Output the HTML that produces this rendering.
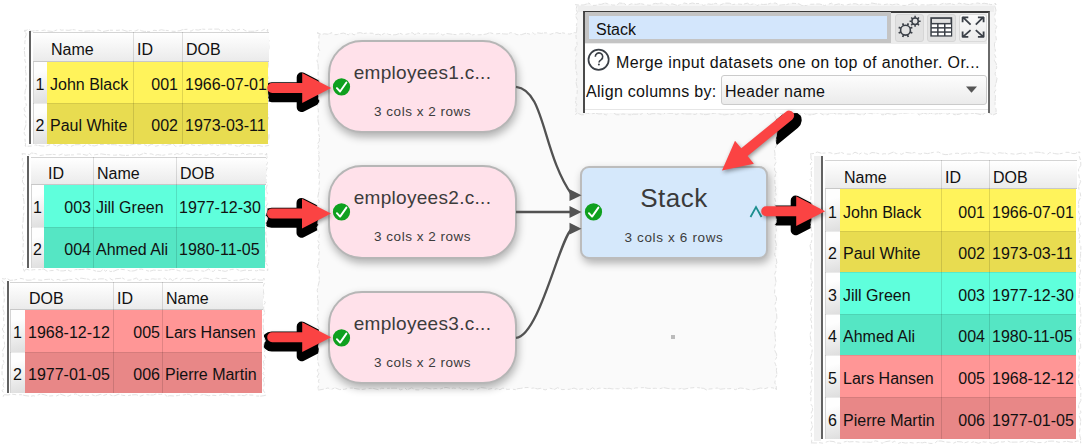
<!DOCTYPE html>
<html><head><meta charset="utf-8">
<style>
*{box-sizing:border-box;margin:0;padding:0}
html,body{width:1086px;height:447px;overflow:hidden;background:#fff;font-family:"Liberation Sans",sans-serif;color:#000}
.a{position:absolute}
.vl{position:absolute;width:2px;background:#626262}
.hd{position:absolute;background:linear-gradient(#ffffff,#ebebeb);border-top:1px solid #d4d4d4;border-bottom:1px solid #c8c8c8}
.c{position:absolute;white-space:nowrap;overflow:hidden;line-height:17px;font-size:16px;color:#111}
.cd{position:absolute;width:1px}
.node{position:absolute;width:189px;height:93px;border:2px solid #b6b6b6;border-radius:34px;background:#ffe1ea;box-shadow:1px 4px 9px rgba(0,0,0,0.3)}
.nt{position:absolute;left:0;width:100%;text-align:center;color:#3c3c3c;white-space:nowrap}
.t1{top:20px;font-size:19px;letter-spacing:0.3px}
.t2{top:62px;font-size:13.5px;letter-spacing:0.5px}
</style></head><body>
<svg class="a" style="left:0;top:0" width="1086" height="447"><g fill="#000" stroke="#000" stroke-width="10" stroke-linejoin="round"><path transform="translate(330.7,92.2)" d="M-59 -5H-29V-14.9L0 0L-29 14.9V5H-59A5 5 0 0 1 -59 -5Z"/><path transform="translate(330.5,217.8)" d="M-59 -5H-29V-14.9L0 0L-29 14.9V5H-59A5 5 0 0 1 -59 -5Z"/><path transform="translate(330.7,341.4)" d="M-59 -5H-29V-14.9L0 0L-29 14.9V5H-59A5 5 0 0 1 -59 -5Z"/><path transform="translate(824.7,215.4)" d="M-59 -5H-29V-14.9L0 0L-29 14.9V5H-59A5 5 0 0 1 -59 -5Z"/><path transform="translate(724.5,175.0) rotate(140.7)" d="M-86.8 -5H-29V-14.9L0 0L-29 14.9V5H-86.8A5 5 0 0 1 -86.8 -5Z"/></g></svg>
<svg class="a" style="left:0;top:0" width="1086" height="447"><path d="M317.0 32.8L321.5 34.5L324.3 33.8L327.7 34.2L332.0 32.7L334.1 34.7L337.4 34.5L339.4 33.7L343.6 33.1L348.4 34.8L350.5 32.6L354.1 34.9L357.3 33.1L360.5 32.6L363.2 33.6L366.7 33.1L369.4 33.1L372.8 33.3L374.8 34.7L378.5 34.2L381.1 35.1L385.6 32.8L388.6 34.4L392.8 34.9L396.0 34.7L400.0 33.3L403.8 34.8L408.3 33.8L412.1 32.6L414.8 34.6L418.1 32.9L421.7 34.3L425.8 33.5L429.1 33.8L433.4 33.9L436.6 33.8L438.7 32.6L442.8 35.1L446.6 33.5L449.1 33.8L454.0 34.5L457.6 34.7L460.3 33.8L465.2 34.0L468.6 33.2L472.2 35.0L474.2 34.5L478.7 34.8L482.9 34.6L486.5 34.0L489.7 32.6L494.4 34.0L497.0 33.8L500.4 33.4L503.5 33.9L507.3 34.1L510.7 32.6L513.4 33.0L517.1 34.7L521.5 34.6L526.0 33.2L530.5 34.3L532.8 32.5L534.8 34.5L537.5 32.8L541.4 33.4L543.6 32.9L547.2 32.9L550.0 34.4L553.4 33.3L556.8 32.6L560.0 33.6L562.5 32.8L567.2 33.8L569.9 34.1L574.3 32.6L576.4 32.9L580.5 32.9L584.6 34.3L588.3 33.1L593.2 34.6L596.8 33.1L600.7 33.5L604.4 33.3L608.3 32.7L611.2 35.0L615.8 33.3L620.4 33.3L625.2 34.4L628.5 33.2L630.5 34.8L632.6 34.6L637.5 34.0L640.0 34.8L644.9 34.3L648.5 33.5L651.5 33.0L655.5 33.6L658.1 32.8L662.1 33.3L665.6 33.3L670.2 34.8L672.3 33.0L675.3 35.1L679.6 33.4L682.3 34.3L686.8 34.9L689.8 34.8L693.9 33.8L698.8 33.1L703.0 32.7L705.5 34.9L708.1 34.5L711.9 34.7L715.0 33.4L717.9 34.8L721.7 35.0L726.4 32.9L730.0 32.8L732.2 32.7L736.8 34.5L741.3 33.4L745.1 34.5L748.2 34.0L750.9 32.7L753.7 34.8L757.4 34.9L760.8 33.2L765.1 34.7L767.2 34.2L769.4 32.8L774.1 32.6L776.8 35.1L776.7 32.5L776.4 35.0L776.7 39.2L776.0 44.0L774.6 48.9L776.3 51.8L776.7 55.2L776.9 59.1L774.4 61.2L775.4 64.1L776.2 67.4L774.6 69.6L774.5 74.5L776.4 76.8L774.5 80.7L775.2 84.3L776.3 88.3L776.2 91.9L776.8 94.7L774.4 97.5L775.3 100.9L774.6 104.8L776.2 108.0L776.2 110.9L774.7 115.5L776.1 118.4L775.5 122.0L776.4 125.8L776.4 127.9L775.6 130.1L776.8 132.3L776.2 136.2L775.7 140.6L776.6 145.2L774.9 148.7L774.5 150.9L775.0 153.4L774.9 158.4L776.7 161.3L774.6 164.9L774.7 167.8L774.6 170.2L776.2 172.3L774.9 177.0L774.8 181.7L775.2 186.0L775.9 188.5L775.1 191.0L776.3 195.0L774.5 197.2L775.6 201.6L774.8 205.2L776.0 208.6L776.3 211.6L775.3 213.7L775.5 216.9L776.1 219.1L776.7 221.5L774.8 224.3L776.0 227.5L776.4 231.3L775.6 233.3L775.3 236.9L775.2 240.2L776.4 244.4L775.8 247.8L775.9 250.5L774.6 254.2L776.3 259.0L776.9 262.9L775.7 265.1L776.6 269.7L774.7 274.0L775.2 277.0L776.0 281.5L775.1 285.6L774.8 289.4L774.5 294.1L776.5 297.8L776.4 300.6L775.0 304.3L775.2 306.4L776.1 310.6L776.6 314.1L776.9 318.3L774.9 323.3L776.3 327.1L774.5 331.9L775.0 334.3L775.3 338.8L775.8 342.9L774.5 347.7L774.9 350.8L776.6 354.1L776.7 357.1L774.5 361.8L775.4 364.2L776.7 367.4L776.4 370.3L777.0 374.6L775.9 377.1L775.4 379.2L774.8 383.0L776.3 385.6L776.3 389.3L777.0 389.3L772.9 387.9L768.5 387.5L764.9 388.7L760.3 388.0L756.6 389.0L753.8 389.7L749.3 389.7L745.1 388.6L740.2 388.0L735.3 389.6L731.8 388.5L728.8 388.7L725.8 388.6L723.8 388.8L720.4 389.2L717.2 388.0L713.2 388.7L709.2 389.0L706.6 390.0L703.8 388.4L699.1 387.8L695.6 387.4L692.2 387.8L689.0 388.1L684.0 389.2L681.5 388.4L677.9 389.1L675.9 389.0L672.6 388.9L668.1 388.5L663.9 387.7L659.6 388.7L655.4 388.3L651.4 388.4L648.2 388.4L644.3 387.6L640.0 387.8L635.7 387.9L631.8 389.1L629.0 388.2L624.4 388.6L622.0 387.8L618.5 388.8L616.4 388.7L612.1 388.9L609.1 388.3L607.0 388.7L602.2 388.2L599.0 388.2L595.2 389.5L592.5 387.7L589.7 389.8L585.2 388.6L582.1 388.7L577.9 389.6L574.0 388.1L569.5 389.3L565.7 389.4L562.0 389.6L557.6 387.7L554.6 389.4L549.8 388.2L545.2 389.9L540.5 388.4L537.6 388.9L533.3 388.0L530.7 388.4L528.2 387.5L524.9 387.6L520.7 388.4L517.9 388.6L515.5 389.6L511.4 389.1L507.1 389.4L502.9 388.1L500.0 389.7L496.8 388.7L494.5 389.5L492.4 388.4L487.7 389.4L485.6 388.2L481.2 387.5L477.3 389.1L472.8 389.7L468.7 389.8L465.5 388.7L462.4 389.6L459.7 387.9L456.3 388.5L453.7 388.1L450.7 388.5L446.0 387.4L443.8 387.9L439.2 389.2L436.1 388.5L431.3 389.0L426.7 388.0L424.2 387.6L422.2 389.6L418.2 389.9L415.1 389.7L411.7 387.8L407.0 389.9L404.8 387.8L402.6 389.3L400.3 389.8L398.2 388.3L394.0 388.2L389.4 388.3L386.3 388.4L381.4 388.3L378.6 389.8L373.8 388.5L370.8 388.4L367.1 388.6L364.9 389.1L361.7 389.5L357.0 388.9L353.1 388.1L348.8 388.1L344.6 389.3L339.6 389.6L334.9 387.8L330.3 389.9L328.1 387.9L324.6 389.0L319.7 389.9L318.2 390.0L318.0 387.6L319.3 383.5L318.4 381.4L319.1 379.1L317.1 376.9L318.9 373.7L317.3 370.8L319.1 366.4L317.8 361.8L317.6 358.6L317.9 354.9L319.0 351.9L318.5 347.0L318.7 344.7L319.6 341.4L319.2 337.2L318.4 333.1L319.2 328.4L317.4 325.5L318.4 322.4L317.9 320.1L317.1 316.4L318.7 312.0L317.8 309.0L317.8 306.0L318.3 301.7L317.4 298.1L317.8 293.4L317.2 290.4L318.2 285.5L319.4 280.7L319.1 275.8L319.4 271.0L317.3 266.6L318.5 263.1L319.0 258.1L318.9 254.0L319.5 250.9L318.0 247.0L319.5 243.6L317.4 240.0L318.8 237.5L319.4 233.8L318.1 231.3L317.1 227.1L318.4 224.8L317.3 222.0L318.6 219.2L317.2 215.6L319.2 213.4L317.5 209.5L317.1 204.9L319.2 201.8L317.7 197.7L318.6 193.0L319.3 188.4L318.8 185.1L319.5 181.5L318.9 177.1L319.6 172.7L317.5 169.9L319.0 165.7L318.3 162.1L319.3 158.9L318.5 154.5L319.2 152.4L317.5 149.0L318.8 146.1L317.3 144.1L319.3 141.2L319.5 137.0L318.5 133.3L318.4 129.7L319.1 126.0L318.1 121.2L317.8 117.3L318.3 114.4L318.4 110.6L317.4 105.7L319.6 101.8L318.5 97.6L318.0 94.5L319.3 89.7L319.3 85.7L319.2 80.9L318.2 77.7L318.0 73.3L318.3 69.1L318.2 66.1L317.9 63.7L317.0 60.5L317.7 58.0L318.5 53.4L319.6 50.5L318.3 47.8L318.8 43.5L319.0 40.2L318.9 36.8L319.5 33.3Z" fill="#fafafa" stroke="#e2e2e2" stroke-width="1" stroke-dasharray="4 2 6 1 3 3"/></svg>
<svg class="a" style="left:0;top:0" width="1086" height="447"><path d="M24.0 31.5L28.8 29.1L31.1 31.2L35.3 30.7L38.2 30.6L42.1 30.5L44.5 30.1L47.7 30.9L52.7 31.5L56.3 30.2L59.1 29.1L61.2 30.2L64.2 30.0L68.8 30.4L72.5 29.6L74.6 29.8L77.0 30.3L82.0 30.8L84.5 31.3L88.9 30.9L93.7 31.0L98.0 29.9L103.0 31.5L105.5 31.0L109.6 30.2L113.2 30.3L118.0 30.3L122.5 29.9L127.1 31.3L130.5 30.5L135.3 30.9L138.7 29.6L141.7 30.8L144.2 31.4L147.0 31.4L149.9 31.5L154.0 30.3L157.6 30.7L161.4 29.8L164.0 30.3L168.8 30.6L171.0 31.1L175.2 31.4L177.8 30.9L179.9 30.7L182.8 29.6L187.4 29.3L190.9 31.2L193.7 29.5L198.3 30.1L202.5 29.1L205.6 29.4L209.6 29.2L214.4 29.1L218.6 29.1L221.4 31.1L223.9 29.5L227.9 30.0L230.1 31.6L232.5 29.1L235.6 30.6L239.8 29.3L242.8 29.1L246.1 31.0L250.4 31.3L254.6 31.2L258.7 30.2L261.4 30.7L264.4 29.3L267.7 31.3L267.5 29.0L267.7 32.2L266.5 34.6L267.4 37.4L269.0 40.6L268.6 44.3L268.9 46.5L268.8 49.0L267.7 52.9L266.6 57.8L268.4 62.8L268.3 66.1L267.4 69.9L267.2 74.3L267.9 77.1L269.0 80.7L267.9 82.8L267.1 85.1L268.7 87.8L268.4 90.4L267.6 93.0L268.2 96.4L268.4 100.3L266.5 105.1L267.9 109.3L267.5 112.8L267.9 114.9L268.5 118.5L266.9 120.8L267.7 123.9L267.4 128.7L266.4 131.5L269.0 134.6L268.7 138.7L266.8 141.6L269.0 145.6L269.0 145.4L265.5 146.0L261.8 146.3L258.9 145.5L254.1 146.3L249.9 146.0L246.1 145.5L242.7 144.5L239.6 146.2L237.2 146.3L232.6 144.8L227.8 144.7L225.7 144.8L221.4 144.6L217.9 145.6L214.5 144.4L211.7 145.1L208.3 144.0L203.8 144.1L199.3 145.7L196.6 145.2L193.9 145.4L189.8 144.1L186.1 144.4L183.8 145.6L178.8 146.1L175.5 146.3L173.3 144.2L168.3 144.8L165.9 145.7L163.2 144.8L159.2 145.4L155.6 146.2L152.0 144.0L147.7 146.2L144.2 144.6L141.4 144.2L138.0 144.7L134.8 143.9L130.5 145.0L128.0 145.4L125.9 145.0L121.3 146.0L117.8 145.2L114.5 144.7L109.7 144.7L106.3 144.0L103.3 144.6L99.4 144.5L94.8 145.9L90.9 145.5L86.9 144.0L83.0 146.5L79.6 144.6L75.0 144.8L70.5 146.5L65.7 144.6L61.9 144.1L57.2 146.2L52.8 144.5L50.2 144.6L46.4 146.0L42.0 146.1L38.2 145.4L35.4 145.0L32.0 146.0L27.1 146.3L25.1 145.2L25.7 146.5L25.3 142.2L24.9 138.2L25.3 135.4L24.2 133.3L24.5 129.1L26.0 124.8L25.8 121.6L26.2 117.2L24.4 114.8L25.2 111.7L24.0 108.8L26.5 105.1L25.4 102.0L25.2 98.9L24.8 94.3L25.3 90.3L26.4 86.7L26.1 84.5L25.7 81.6L25.7 77.2L26.2 74.0L25.6 71.7L25.4 68.6L26.1 64.0L24.8 60.1L25.2 57.4L24.7 54.7L24.3 49.8L25.0 45.4L24.8 42.3L25.2 40.1L25.1 37.6L26.3 34.7L25.1 29.9Z" fill="#fff" stroke="#e2e2e2" stroke-width="1" stroke-dasharray="4 2 6 1 3 3"/></svg>
<div class="vl" style="left:29px;top:31px;height:113px"></div>
<div class="a" style="left:33px;top:32px;width:235px;height:112px;background:#fff;border-left:1px solid #d4d4d4"></div>
<div class="hd" style="left:33px;top:32px;width:236px;height:30px"></div>
<div class="a" style="left:47px;top:62px;width:221px;height:41px;background:#fff35b"></div>
<div class="a" style="left:34px;top:62px;width:13px;height:41px;background:linear-gradient(165deg,#fefefe 25%,#dedede)"></div>
<div class="c" style="left:33px;width:14px;text-align:center;top:75.5px">1</div>
<div class="c" style="left:50px;width:83px;top:75.5px">John Black</div>
<div class="c" style="left:133px;width:45px;text-align:right;top:75.5px">001</div>
<div class="c" style="left:185px;width:83px;top:75.5px">1966-07-01</div>
<div class="a" style="left:47px;top:103px;width:221px;height:41px;background:#e8dc50"></div>
<div class="a" style="left:34px;top:103px;width:13px;height:41px;background:linear-gradient(165deg,#fefefe 25%,#dedede)"></div>
<div class="a" style="left:33px;top:103px;width:235px;height:1px;background:rgba(0,0,0,0.08)"></div>
<div class="c" style="left:33px;width:14px;text-align:center;top:116.5px">2</div>
<div class="c" style="left:50px;width:83px;top:116.5px">Paul White</div>
<div class="c" style="left:133px;width:45px;text-align:right;top:116.5px">002</div>
<div class="c" style="left:185px;width:83px;top:116.5px">1973-03-11</div>
<div class="c" style="left:51px;top:41.0px">Name</div>
<div class="cd" style="left:133px;top:32px;height:112px;background:rgba(0,0,0,0.12)"></div>
<div class="c" style="left:137px;top:41.0px">ID</div>
<div class="cd" style="left:182px;top:32px;height:112px;background:rgba(0,0,0,0.12)"></div>
<div class="c" style="left:186px;top:41.0px">DOB</div>
<svg class="a" style="left:0;top:0" width="1086" height="447"><path d="M22.0 153.6L25.6 154.0L29.4 154.6L31.6 153.0L36.2 153.7L38.9 155.6L42.3 155.2L45.7 154.7L48.1 154.7L52.8 154.4L57.0 154.7L59.2 155.0L62.9 153.8L65.0 155.3L68.5 154.9L73.1 154.9L77.9 154.0L82.3 154.2L87.1 155.3L89.4 153.4L92.0 155.5L95.3 154.6L98.2 154.3L101.4 153.9L105.1 154.5L109.8 154.8L114.6 155.2L119.6 154.7L122.1 155.2L127.0 155.4L130.7 154.9L133.3 155.2L137.0 153.7L139.2 155.2L144.2 153.2L148.6 154.1L151.1 153.8L155.4 155.3L157.5 154.6L159.6 154.9L162.6 155.3L167.6 154.3L172.6 153.8L174.8 154.6L176.9 153.5L180.1 154.6L182.6 153.1L187.2 153.8L192.1 155.3L195.2 154.2L198.8 154.7L202.5 154.5L206.4 155.4L209.9 154.1L214.1 153.6L217.0 155.5L220.6 154.4L222.6 154.1L226.3 153.1L230.2 154.6L232.4 154.6L235.8 154.8L238.8 154.8L243.0 153.1L245.2 154.8L250.1 153.7L253.5 154.5L256.4 153.9L259.4 154.0L263.1 153.8L266.3 155.0L266.5 153.0L267.2 157.2L265.9 159.9L267.5 162.6L266.2 165.9L267.2 168.2L265.8 171.2L265.8 174.5L267.1 177.0L265.7 181.0L267.4 184.3L266.6 186.7L265.9 189.3L267.5 193.8L265.9 196.6L265.9 200.5L267.7 203.6L265.9 206.5L267.1 209.3L266.9 212.5L265.6 215.7L268.0 218.2L265.7 223.0L266.9 228.0L265.6 232.9L266.1 235.5L266.3 240.0L267.2 243.6L267.4 246.6L266.5 248.8L265.9 251.7L265.7 253.8L265.6 257.9L265.7 262.6L268.0 266.3L267.6 270.5L268.0 269.8L264.4 270.4L259.6 269.9L256.6 270.8L252.0 270.3L247.7 270.6L245.1 270.1L240.6 271.1L236.2 269.1L231.8 269.4L229.8 269.9L225.2 271.4L222.4 270.8L218.8 270.4L215.4 269.5L213.4 271.4L211.0 271.2L208.8 269.0L204.2 271.3L200.7 270.7L197.8 270.6L193.8 270.0L190.8 271.0L187.8 271.2L184.1 269.6L181.0 271.3L178.4 270.5L174.6 269.5L171.5 269.4L167.6 270.4L164.5 270.2L160.4 270.4L156.3 270.3L153.6 270.1L149.5 271.3L146.2 270.4L141.6 269.1L138.4 269.2L134.1 270.8L130.7 271.2L126.2 269.8L121.6 269.4L117.6 269.6L113.9 271.2L110.1 271.5L107.7 269.5L105.6 271.3L103.3 269.2L100.7 271.4L96.2 271.2L91.7 269.7L87.2 269.0L83.4 269.4L81.3 269.5L77.8 269.6L75.5 269.6L70.7 271.3L67.7 270.0L63.2 270.9L60.7 270.9L56.8 269.5L53.6 270.5L50.4 270.6L47.2 271.3L43.7 269.0L40.4 269.6L38.0 269.7L33.7 269.7L30.1 270.2L26.2 269.2L23.8 271.3L24.4 271.5L23.2 267.9L22.5 263.8L22.5 261.0L22.8 257.2L23.8 254.5L22.8 249.7L23.1 245.6L23.5 241.0L22.6 238.2L23.2 236.1L22.4 233.0L22.8 229.9L22.4 225.6L23.2 220.6L23.2 216.8L24.1 212.3L23.3 208.6L24.2 204.5L23.9 201.3L23.2 196.4L22.6 193.7L23.8 189.5L24.2 184.7L22.5 181.9L22.5 179.2L24.2 175.1L22.7 170.4L22.8 165.8L23.9 162.5L22.2 160.2L22.8 155.7Z" fill="#fff" stroke="#e2e2e2" stroke-width="1" stroke-dasharray="4 2 6 1 3 3"/></svg>
<div class="vl" style="left:27px;top:156px;height:112px"></div>
<div class="a" style="left:31px;top:157px;width:234px;height:111px;background:#fff;border-left:1px solid #d4d4d4"></div>
<div class="hd" style="left:31px;top:157px;width:235px;height:28px"></div>
<div class="a" style="left:44px;top:185px;width:221px;height:42px;background:#5fffdc"></div>
<div class="a" style="left:32px;top:185px;width:12px;height:42px;background:linear-gradient(165deg,#fefefe 25%,#dedede)"></div>
<div class="c" style="left:31px;width:13px;text-align:center;top:199.0px">1</div>
<div class="c" style="left:44px;width:47px;text-align:right;top:199.0px">003</div>
<div class="c" style="left:96px;width:80px;top:199.0px">Jill Green</div>
<div class="c" style="left:179px;width:87px;top:199.0px">1977-12-30</div>
<div class="a" style="left:44px;top:227px;width:221px;height:41px;background:#55e6c4"></div>
<div class="a" style="left:32px;top:227px;width:12px;height:41px;background:linear-gradient(165deg,#fefefe 25%,#dedede)"></div>
<div class="a" style="left:31px;top:227px;width:234px;height:1px;background:rgba(0,0,0,0.08)"></div>
<div class="c" style="left:31px;width:13px;text-align:center;top:240.5px">2</div>
<div class="c" style="left:44px;width:47px;text-align:right;top:240.5px">004</div>
<div class="c" style="left:96px;width:80px;top:240.5px">Ahmed Ali</div>
<div class="c" style="left:179px;width:87px;top:240.5px">1980-11-05</div>
<div class="c" style="left:48px;top:165.0px">ID</div>
<div class="cd" style="left:93px;top:157px;height:111px;background:rgba(0,0,0,0.12)"></div>
<div class="c" style="left:97px;top:165.0px">Name</div>
<div class="cd" style="left:176px;top:157px;height:111px;background:rgba(0,0,0,0.12)"></div>
<div class="c" style="left:180px;top:165.0px">DOB</div>
<svg class="a" style="left:0;top:0" width="1086" height="447"><path d="M2.0 278.6L4.3 279.0L6.8 278.2L10.0 280.4L14.4 280.0L17.0 279.4L19.9 278.4L22.2 278.6L27.0 280.2L31.4 280.1L34.0 278.8L37.9 279.9L42.4 280.3L44.7 279.6L48.7 279.3L51.2 279.2L53.5 280.4L58.1 279.4L61.0 280.4L64.7 280.3L69.3 279.3L72.5 279.6L75.8 278.4L78.7 280.1L80.8 278.1L84.7 278.7L88.3 279.2L91.3 280.6L93.9 279.1L96.5 279.6L99.4 278.9L103.6 278.8L107.3 280.4L109.6 278.2L112.3 280.0L116.1 278.6L119.1 278.5L122.5 278.1L126.6 280.3L131.5 279.9L136.3 278.0L139.2 280.5L143.5 279.1L148.4 279.6L152.8 278.8L155.4 279.2L157.8 279.0L162.7 278.9L164.7 278.1L167.2 280.0L170.3 278.8L172.6 280.6L175.9 278.5L178.0 278.1L180.5 279.8L183.0 278.1L186.5 278.6L191.5 278.3L195.1 280.0L198.3 280.6L201.7 278.6L204.9 278.1L208.2 278.6L212.9 280.2L216.4 278.1L219.1 278.6L221.8 278.6L226.4 278.4L228.5 280.4L232.2 280.6L235.4 280.3L239.4 280.1L243.6 279.3L245.9 278.5L250.5 280.3L255.3 278.9L259.3 280.1L263.2 280.1L263.8 278.0L264.8 282.1L263.0 286.8L263.0 289.0L263.8 293.9L263.2 296.1L263.0 298.5L265.3 302.5L263.8 305.0L263.6 308.7L264.9 313.4L263.1 315.5L263.2 317.5L263.4 319.8L263.2 324.2L263.2 327.8L263.8 330.4L263.2 333.4L264.3 337.8L265.4 341.3L264.0 343.4L263.3 346.9L265.1 350.7L263.5 353.8L265.5 357.4L263.3 361.9L264.1 364.2L263.5 367.3L264.9 370.2L263.0 373.7L265.2 376.0L263.2 379.8L264.4 383.4L263.5 388.0L263.2 390.2L264.7 392.7L265.5 395.4L261.1 396.1L256.5 396.0L254.0 395.2L251.0 395.1L246.3 394.7L244.3 395.7L240.7 395.2L236.5 395.2L234.3 395.9L229.7 395.6L225.4 393.9L221.6 394.7L217.7 395.7L213.0 395.3L208.3 395.7L203.7 394.5L199.8 395.4L197.4 394.5L194.3 394.8L191.9 396.3L189.5 394.4L186.9 394.2L183.8 395.0L180.8 394.9L178.5 395.5L173.7 396.0L169.7 395.7L166.8 396.4L164.8 394.0L160.3 394.4L155.9 394.0L153.4 395.0L149.9 395.0L145.1 394.5L140.2 396.2L136.2 394.7L132.0 394.9L127.5 395.7L122.7 395.4L118.9 394.2L114.8 395.7L112.1 395.7L108.2 393.9L103.5 395.5L100.3 394.4L97.5 395.4L95.4 396.0L91.8 394.7L88.0 395.6L83.1 394.9L80.6 396.3L75.7 393.9L71.0 394.9L68.0 396.3L65.3 395.9L60.5 394.2L56.1 396.1L53.4 395.7L48.6 396.1L44.2 394.7L40.6 394.0L37.8 395.1L35.3 396.2L33.2 395.7L30.8 396.3L25.9 395.7L21.2 394.7L17.0 394.8L12.1 394.2L8.0 395.0L3.9 394.6L3.3 396.5L4.2 394.0L2.2 390.6L4.3 388.1L3.0 385.3L4.2 381.3L3.0 378.3L2.1 375.0L2.0 370.4L2.4 365.5L4.2 363.0L2.6 358.6L3.2 354.9L2.5 350.7L4.6 346.3L4.4 342.1L3.0 337.3L4.2 332.8L2.3 329.0L4.4 325.2L3.7 322.3L3.6 317.6L3.6 315.5L4.2 312.7L2.8 308.7L3.6 304.0L4.2 301.0L4.3 296.3L3.7 291.7L3.6 287.6L4.6 284.0L2.2 280.9Z" fill="#fff" stroke="#e2e2e2" stroke-width="1" stroke-dasharray="4 2 6 1 3 3"/></svg>
<div class="vl" style="left:7px;top:281px;height:112px"></div>
<div class="a" style="left:10px;top:282px;width:252px;height:111px;background:#fff;border-left:1px solid #d4d4d4"></div>
<div class="hd" style="left:10px;top:282px;width:253px;height:28px"></div>
<div class="a" style="left:25px;top:310px;width:237px;height:42px;background:#ff9696"></div>
<div class="a" style="left:11px;top:310px;width:14px;height:42px;background:linear-gradient(165deg,#fefefe 25%,#dedede)"></div>
<div class="c" style="left:10px;width:15px;text-align:center;top:324.0px">1</div>
<div class="c" style="left:28px;width:85px;top:324.0px">1968-12-12</div>
<div class="c" style="left:113px;width:47px;text-align:right;top:324.0px">005</div>
<div class="c" style="left:165px;width:98px;top:324.0px">Lars Hansen</div>
<div class="a" style="left:25px;top:352px;width:237px;height:41px;background:#e88787"></div>
<div class="a" style="left:11px;top:352px;width:14px;height:41px;background:linear-gradient(165deg,#fefefe 25%,#dedede)"></div>
<div class="a" style="left:10px;top:352px;width:252px;height:1px;background:rgba(0,0,0,0.08)"></div>
<div class="c" style="left:10px;width:15px;text-align:center;top:365.5px">2</div>
<div class="c" style="left:28px;width:85px;top:365.5px">1977-01-05</div>
<div class="c" style="left:113px;width:47px;text-align:right;top:365.5px">006</div>
<div class="c" style="left:165px;width:98px;top:365.5px">Pierre Martin</div>
<div class="c" style="left:29px;top:290.0px">DOB</div>
<div class="cd" style="left:113px;top:282px;height:111px;background:rgba(0,0,0,0.12)"></div>
<div class="c" style="left:117px;top:290.0px">ID</div>
<div class="cd" style="left:162px;top:282px;height:111px;background:rgba(0,0,0,0.12)"></div>
<div class="c" style="left:166px;top:290.0px">Name</div>
<div class="node" style="left:328px;top:40px;height:93px"><div class="nt t1">employees1.c...</div><div class="nt t2">3 cols x 2 rows</div></div>
<div class="node" style="left:328px;top:165px;height:94px"><div class="nt t1">employees2.c...</div><div class="nt t2">3 cols x 2 rows</div></div>
<div class="node" style="left:328px;top:291px;height:93px"><div class="nt t1">employees3.c...</div><div class="nt t2">3 cols x 2 rows</div></div>
<div class="a" style="left:580px;top:166px;width:188px;height:93px;border:2px solid #bcbcbc;border-radius:9px;background:#d5e8fb;box-shadow:2px 4px 9px rgba(0,0,0,0.3)">
<div class="nt" style="top:15px;font-size:26px;letter-spacing:0.5px;color:#3a3a3a">Stack</div>
<div class="nt t2" style="top:61.5px;letter-spacing:0.65px">3 cols x 6 rows</div>
</div>
<svg class="a" style="left:0;top:0" width="1086" height="447"><path d="M575.0 4.6L579.2 5.1L584.1 4.9L588.8 3.1L592.2 5.5L596.2 5.3L598.5 4.2L601.2 4.4L605.0 3.0L607.6 3.7L612.4 5.0L614.8 5.1L617.3 4.6L619.6 3.0L624.3 3.5L626.9 5.6L631.5 3.8L636.4 4.4L640.4 3.5L645.3 4.8L650.2 5.3L653.1 3.9L655.6 3.4L657.7 3.8L661.6 3.0L665.6 3.9L668.5 5.1L672.0 3.8L675.4 4.8L677.6 5.5L679.6 4.9L684.2 3.0L688.5 4.0L692.3 3.0L694.4 3.5L699.3 3.5L703.6 5.4L708.4 3.9L711.4 4.4L715.8 3.3L720.0 5.1L724.6 3.1L729.4 3.2L732.5 4.6L737.2 3.9L742.0 4.4L744.9 3.8L747.4 3.2L749.9 4.8L754.9 3.4L757.0 5.6L760.6 4.1L763.3 4.5L767.8 4.2L771.1 3.1L775.8 3.1L779.3 5.2L781.7 4.9L786.6 4.6L790.9 3.3L794.2 3.4L798.8 3.8L802.1 5.6L806.7 5.5L810.0 4.3L814.2 4.2L817.1 4.0L819.5 4.0L824.5 5.5L828.4 4.3L831.4 3.2L834.2 5.0L838.8 3.9L843.2 5.0L847.3 4.7L851.5 3.9L855.7 3.7L859.1 5.0L863.2 3.8L868.0 4.7L871.8 3.0L875.4 3.7L879.4 4.2L883.9 4.7L888.3 3.9L892.2 4.9L896.7 3.9L901.2 5.3L905.3 5.5L910.1 4.3L913.7 3.4L918.2 5.4L921.7 4.8L925.8 4.9L928.3 5.0L932.1 4.7L935.3 4.6L939.7 4.7L943.8 3.1L946.3 4.1L950.3 3.6L954.3 4.6L956.4 4.2L959.1 3.1L961.5 3.8L964.1 3.5L966.2 4.2L969.3 4.6L973.1 3.6L977.8 3.0L981.0 3.7L984.2 3.3L988.7 4.0L990.8 4.6L993.1 4.4L996.2 4.5L994.9 3.0L994.9 6.3L996.0 10.2L995.5 12.6L994.5 16.3L995.4 21.2L994.7 24.3L996.7 26.3L995.4 30.0L995.4 32.4L996.0 37.1L996.4 40.4L994.5 43.2L994.5 46.4L995.5 51.1L994.4 53.9L995.9 57.4L994.4 60.3L996.3 63.8L996.7 67.2L995.8 71.1L995.0 74.0L997.0 78.5L996.3 82.1L995.0 86.9L996.3 89.6L994.4 92.1L995.4 94.9L995.3 98.4L995.1 102.2L995.0 104.5L995.6 107.4L996.2 110.4L995.8 114.0L997.0 113.1L993.2 114.9L990.5 113.8L985.7 112.7L982.1 115.0L977.7 113.9L974.0 113.2L970.1 113.7L965.4 114.0L962.2 112.8L959.6 114.2L955.1 114.8L950.6 113.2L947.3 114.3L943.0 112.6L940.6 113.8L936.9 113.7L933.9 114.6L930.2 112.9L928.0 114.4L923.5 112.9L919.5 114.9L915.3 112.5L910.3 113.2L908.2 112.8L905.5 113.3L900.7 113.1L898.3 114.2L893.5 114.6L889.7 113.9L887.2 113.4L885.1 114.7L881.9 114.8L879.8 113.5L875.5 112.7L873.1 113.9L870.2 113.4L866.7 112.6L863.6 114.9L859.5 114.6L855.6 113.7L850.9 113.6L847.0 114.3L843.4 114.3L839.1 113.7L836.7 114.4L833.6 113.1L831.1 113.1L827.1 114.8L823.1 114.8L820.7 113.5L818.0 112.7L814.6 114.2L810.2 114.9L806.0 114.9L803.5 112.5L799.5 114.4L797.2 112.5L793.2 112.9L790.7 113.4L787.7 114.4L784.7 113.4L781.6 114.0L779.2 112.8L775.3 112.9L772.0 112.8L768.4 113.5L764.7 113.1L761.5 114.7L759.4 114.5L757.3 112.7L753.9 113.0L751.9 113.8L747.2 113.4L743.9 113.8L741.6 114.6L739.1 114.0L736.0 112.7L733.5 114.3L730.7 114.6L727.8 114.4L724.4 114.9L719.6 114.0L714.8 113.2L710.8 113.8L705.9 114.7L701.9 114.2L697.9 113.1L695.4 114.5L693.3 114.4L691.1 114.0L686.2 114.1L683.2 113.8L680.4 113.1L676.2 114.6L673.5 113.3L668.7 113.3L665.4 112.5L663.4 114.8L659.0 113.9L656.9 113.6L651.9 113.7L648.9 114.8L646.7 112.7L643.2 112.6L641.0 114.4L638.9 114.0L636.7 114.3L633.5 114.2L631.3 114.9L626.4 114.5L622.9 114.0L619.3 114.8L616.4 114.7L612.7 112.6L608.9 112.8L606.3 115.0L602.7 113.7L599.0 114.0L595.1 113.1L590.3 114.2L587.0 112.9L584.3 114.7L581.4 114.8L577.1 112.9L575.3 115.0L575.6 112.8L576.1 110.5L575.6 106.8L576.8 104.6L575.5 102.4L576.0 99.6L576.1 97.3L577.0 94.3L577.3 90.7L577.0 86.7L576.1 83.0L576.7 78.5L576.9 73.7L575.7 69.6L576.0 65.1L575.2 62.7L575.7 60.2L575.7 56.2L577.0 54.0L575.1 50.3L575.3 48.2L577.2 45.1L576.6 40.3L576.1 37.6L575.9 34.5L576.5 32.5L576.9 28.0L576.4 25.7L576.8 23.2L577.4 19.8L575.3 15.5L577.4 12.5L576.1 9.1L577.0 5.8Z" fill="#f6f6f6" stroke="#e2e2e2" stroke-width="1" stroke-dasharray="4 2 6 1 3 3"/></svg>

<div class="a" style="left:578px;top:6px;width:416px;height:6px;background:#eeeeee"></div>
<div class="a" style="left:583px;top:11px;width:407px;height:102px;background:#fff;border-left:2px solid #4a4a4a;border-top:2px solid #3a3a3a;border-right:2px solid #6a6a6a"></div><div class="a" style="left:585px;top:109px;width:403px;height:1px;background:#e6e6e6"></div>
<div class="a" style="left:585px;top:13px;width:402px;height:31px;background:#ececec"></div>
<div class="a" style="left:585px;top:12px;width:306px;height:31px;border:4px solid #c4c4c4;background:#d3e6fc"></div>
<div class="c" style="left:596px;top:21px;font-size:16px">Stack</div>
<div class="a" style="left:895px;top:13.5px;width:29px;height:28px;border-radius:3px;background:#e2e2e2;border:1px solid #d6d6d6"></div>
<div class="a" style="left:927px;top:13.5px;width:29px;height:28px;border-radius:3px;background:#e2e2e2;border:1px solid #d6d6d6"></div>
<div class="a" style="left:959px;top:13.5px;width:28px;height:28px;border-radius:3px;background:linear-gradient(#fafafa,#ececec);border:1px solid #dadada"></div>
<svg class="a" style="left:0;top:0" width="1086" height="60"><circle cx="905.5" cy="30.2" r="4.9" fill="none" stroke="#3b4048" stroke-width="1.6"/><path d="M907.41 25.58L908.33 23.36M910.12 28.29L912.34 27.37M910.12 32.11L912.34 33.03M907.41 34.82L908.33 37.04M903.59 34.82L902.67 37.04M900.88 32.11L898.66 33.03M900.88 28.29L898.66 27.37M903.59 25.58L902.67 23.36" stroke="#3b4048" stroke-width="1.7" fill="none"/><circle cx="915.1" cy="21.3" r="3.2" fill="none" stroke="#3b4048" stroke-width="1.5"/><path d="M915.10 18.00L915.10 15.80M917.43 18.97L918.99 17.41M918.40 21.30L920.60 21.30M917.43 23.63L918.99 25.19M915.10 24.60L915.10 26.80M912.77 23.63L911.21 25.19M911.80 21.30L909.60 21.30M912.77 18.97L911.21 17.41" stroke="#3b4048" stroke-width="1.5" fill="none"/><rect x="930.3" y="17.2" width="21.9" height="19.4" fill="#3b4048"/><rect x="932" y="18.9" width="18.5" height="4" fill="#e0e0e0"/><rect x="931.8" y="24.4" width="5.3" height="2.7" fill="#fff"/><rect x="938.6" y="24.4" width="5.4" height="2.7" fill="#fff"/><rect x="945.5" y="24.4" width="5.5" height="2.7" fill="#fff"/><rect x="931.8" y="28.6" width="5.3" height="2.7" fill="#fff"/><rect x="938.6" y="28.6" width="5.4" height="2.7" fill="#fff"/><rect x="945.5" y="28.6" width="5.5" height="2.7" fill="#fff"/><rect x="931.8" y="32.8" width="5.3" height="2.5" fill="#fff"/><rect x="938.6" y="32.8" width="5.4" height="2.5" fill="#fff"/><rect x="945.5" y="32.8" width="5.5" height="2.5" fill="#fff"/><g fill="none" stroke="#3b4048" stroke-width="1.8"><path d="M962.6 16.9L970.6 24.6M962.2 17.3H968.3M962.6 16.9V22.2"/><path d="M983.6 16.9L975.8 24.6M984 17.3H977.9M983.6 16.9V22.2"/><path d="M962.6 37.2L970.6 30.1M962.2 36.8H968.3M962.6 37.2V31.6"/><path d="M983.6 37.2L975.8 30.1M984 36.8H977.9M983.6 37.2V31.6"/></g></svg>
<svg class="a" style="left:0;top:0" width="1086" height="80"><circle cx="598.6" cy="59.7" r="10.1" fill="none" stroke="#3a3f46" stroke-width="1.7"/><path d="M595.3 56.7A3.7 3.7 0 1 1 601.2 59.6C599.6 60.6 599 61.2 599 62.6" fill="none" stroke="#3a3f46" stroke-width="1.6"/><circle cx="598.9" cy="64.6" r="1" fill="#3a3f46"/></svg>
<div class="c" style="left:616px;top:53.8px;font-size:16px;letter-spacing:0.4px">Merge input datasets one on top of another. Or...</div>
<div class="c" style="left:586px;top:82.8px;font-size:16px;letter-spacing:0.3px">Align columns by:</div>
<div class="a" style="left:721px;top:75px;width:266px;height:30px;border-radius:3px;border:1px solid #cbcbcb;background:linear-gradient(#fdfdfd,#ebebeb)"></div>
<div class="c" style="left:725px;top:82.8px;font-size:16px;letter-spacing:0.3px">Header name</div>
<svg class="a" style="left:965px;top:86px" width="13" height="8"><path d="M1 0.5h11l-5.5 6.3z" fill="#555"/></svg>

<svg class="a" style="left:0;top:0" width="1086" height="447"><path d="M810.0 154.1L814.5 153.3L817.3 152.0L821.2 153.2L825.5 153.0L829.8 152.7L834.2 153.9L837.5 153.4L841.5 152.5L845.2 154.1L848.0 154.1L852.0 154.2L855.0 152.2L859.4 154.1L862.8 152.2L865.4 153.7L868.2 154.5L872.0 152.5L876.0 152.9L880.8 154.4L884.3 153.7L888.4 154.1L893.3 152.1L896.4 153.6L899.3 153.5L901.6 154.3L905.2 152.3L909.2 152.8L911.8 153.3L914.2 152.5L918.8 153.8L920.8 154.0L922.9 152.9L927.6 153.6L930.5 153.0L933.7 152.3L938.7 152.1L941.9 153.9L945.1 154.6L947.9 154.5L952.5 153.7L957.2 153.2L961.7 154.1L965.2 153.2L969.4 153.1L971.6 153.9L974.4 153.3L978.8 152.4L980.8 152.3L984.6 152.9L987.4 153.2L992.2 152.7L995.4 154.3L999.2 152.7L1002.6 153.2L1005.1 153.0L1008.0 154.1L1011.0 153.7L1015.9 154.4L1019.0 153.6L1022.0 153.0L1025.4 154.1L1030.2 152.8L1032.3 153.2L1034.4 152.1L1038.7 152.3L1042.9 152.9L1047.7 154.2L1049.9 152.5L1054.7 153.6L1058.0 154.0L1062.5 153.3L1065.9 152.3L1068.9 152.4L1072.8 153.6L1075.3 153.6L1077.5 152.3L1079.8 152.0L1079.4 156.7L1080.7 160.8L1080.8 165.3L1078.6 169.2L1078.7 173.9L1079.2 177.2L1080.6 181.6L1078.6 186.4L1079.0 189.8L1080.3 193.1L1080.8 197.2L1078.5 201.6L1078.6 204.5L1078.8 206.7L1078.5 209.6L1078.6 212.9L1080.8 215.0L1079.3 219.4L1080.9 223.0L1080.0 225.6L1078.4 227.7L1078.5 232.0L1080.1 236.1L1079.1 238.3L1079.6 240.7L1079.7 244.1L1080.8 246.3L1080.9 249.9L1080.6 253.4L1080.6 256.3L1080.0 260.0L1080.4 262.7L1078.6 266.3L1080.6 269.6L1080.4 272.6L1079.0 276.3L1080.5 280.0L1080.0 283.0L1080.0 286.3L1079.6 291.3L1079.1 295.3L1078.9 299.2L1079.3 302.3L1080.6 307.2L1080.0 311.1L1080.9 313.3L1080.7 317.6L1080.7 321.7L1080.9 324.8L1079.0 328.4L1079.5 331.1L1080.2 335.9L1079.1 339.3L1080.6 343.9L1080.7 347.9L1078.4 350.2L1078.6 352.3L1079.2 356.6L1079.3 360.8L1079.8 363.6L1078.8 366.3L1079.0 370.6L1079.5 373.2L1078.9 376.0L1078.4 380.2L1079.2 384.4L1080.8 388.7L1080.9 392.5L1080.7 395.6L1080.9 400.4L1078.5 405.2L1078.8 408.5L1080.6 410.6L1080.8 412.7L1078.8 414.7L1079.5 416.9L1080.7 419.8L1080.5 423.0L1080.0 428.0L1079.5 431.7L1079.8 435.6L1080.6 438.4L1080.5 443.1L1081.0 441.4L1077.3 441.0L1072.8 442.2L1070.5 442.0L1067.1 441.3L1063.5 441.7L1059.0 442.3L1054.5 441.2L1052.0 441.1L1047.4 441.3L1044.4 442.8L1042.0 442.5L1037.5 442.6L1035.4 442.7L1033.2 441.9L1028.9 441.1L1026.6 442.5L1024.2 441.1L1019.7 442.1L1014.9 442.1L1010.5 442.2L1007.5 440.9L1002.9 442.0L998.3 441.8L993.9 443.3L991.5 443.2L987.7 441.6L985.3 442.2L982.9 441.7L978.6 443.3L973.6 441.8L971.3 442.6L968.8 441.6L964.0 443.0L961.5 441.9L956.9 441.6L953.5 443.2L949.7 442.3L945.3 442.0L941.1 441.0L937.2 441.1L934.4 443.5L929.7 443.4L924.8 442.3L922.6 442.8L918.4 442.5L914.5 443.2L910.0 442.5L905.5 443.1L901.5 442.3L898.3 443.4L894.7 441.3L892.4 442.3L890.4 440.9L885.5 441.7L882.0 443.3L879.7 441.7L875.3 440.9L870.7 442.4L867.9 442.1L864.9 442.1L860.2 442.3L855.3 441.6L853.2 441.6L849.2 441.9L847.2 441.2L843.7 442.1L841.2 443.4L839.1 443.0L836.2 443.1L834.0 441.6L829.9 441.2L827.3 441.6L823.5 443.3L818.9 442.6L816.3 443.0L811.5 442.9L811.4 443.5L811.7 440.4L811.1 438.2L811.6 434.4L810.7 430.6L812.5 426.7L811.7 423.2L810.7 418.7L812.5 415.9L811.1 413.0L812.6 409.9L812.3 406.3L810.7 403.8L810.8 399.8L811.3 395.8L810.3 393.6L811.4 390.3L810.7 387.8L810.7 385.7L811.0 382.8L812.2 379.0L811.9 374.9L811.3 372.0L812.3 367.9L810.0 365.1L811.3 363.0L810.4 358.4L811.7 354.0L812.3 349.4L812.1 347.1L810.3 344.7L811.3 341.5L810.7 339.3L810.4 336.8L810.1 334.5L810.9 331.8L811.8 328.6L811.3 324.7L811.6 321.8L810.5 319.2L811.7 316.8L810.6 314.4L811.5 311.4L811.5 307.4L810.5 303.6L811.9 298.9L811.0 295.7L810.3 291.9L812.3 288.0L811.3 284.9L812.4 282.2L810.9 279.0L811.0 274.9L811.1 270.2L810.8 266.4L811.2 262.6L812.3 260.3L811.5 257.8L811.2 253.8L811.2 250.8L810.0 245.8L811.6 241.2L811.7 237.7L812.2 233.8L811.3 228.9L810.9 225.8L811.2 221.1L811.5 218.9L810.9 216.5L811.6 212.6L812.2 209.0L812.5 205.2L810.7 200.7L810.9 196.4L811.6 191.5L810.5 188.3L810.9 183.7L812.1 181.7L810.1 179.7L811.7 177.6L811.3 173.9L811.2 169.1L812.6 166.5L810.1 164.1L812.5 161.5L810.9 158.2L811.0 155.1Z" fill="#fff" stroke="#e2e2e2" stroke-width="1" stroke-dasharray="4 2 6 1 3 3"/></svg>
<div class="a" style="left:814px;top:156px;width:7px;height:285px;background:#f0f0f0"></div>
<div class="vl" style="left:821px;top:156px;height:283px"></div>
<div class="a" style="left:825px;top:160px;width:251px;height:279px;background:#fff;border-left:1px solid #d4d4d4"></div>
<div class="hd" style="left:825px;top:160px;width:252px;height:29px"></div>
<div class="a" style="left:840px;top:189px;width:236px;height:42px;background:#fff35b"></div>
<div class="a" style="left:826px;top:189px;width:14px;height:42px;background:linear-gradient(165deg,#fefefe 25%,#dedede)"></div>
<div class="c" style="left:825px;width:15px;text-align:center;top:203.8px">1</div>
<div class="c" style="left:843px;width:98px;top:203.8px">John Black</div>
<div class="c" style="left:941px;width:44px;text-align:right;top:203.8px">001</div>
<div class="c" style="left:992px;width:84px;top:203.8px">1966-07-01</div>
<div class="a" style="left:840px;top:231px;width:236px;height:41px;background:#e8dc50"></div>
<div class="a" style="left:826px;top:231px;width:14px;height:41px;background:linear-gradient(165deg,#fefefe 25%,#dedede)"></div>
<div class="a" style="left:825px;top:231px;width:251px;height:1px;background:rgba(0,0,0,0.08)"></div>
<div class="c" style="left:825px;width:15px;text-align:center;top:245.3px">2</div>
<div class="c" style="left:843px;width:98px;top:245.3px">Paul White</div>
<div class="c" style="left:941px;width:44px;text-align:right;top:245.3px">002</div>
<div class="c" style="left:992px;width:84px;top:245.3px">1973-03-11</div>
<div class="a" style="left:840px;top:272px;width:236px;height:42px;background:#5fffdc"></div>
<div class="a" style="left:826px;top:272px;width:14px;height:42px;background:linear-gradient(165deg,#fefefe 25%,#dedede)"></div>
<div class="a" style="left:825px;top:272px;width:251px;height:1px;background:rgba(0,0,0,0.08)"></div>
<div class="c" style="left:825px;width:15px;text-align:center;top:286.8px">3</div>
<div class="c" style="left:843px;width:98px;top:286.8px">Jill Green</div>
<div class="c" style="left:941px;width:44px;text-align:right;top:286.8px">003</div>
<div class="c" style="left:992px;width:84px;top:286.8px">1977-12-30</div>
<div class="a" style="left:840px;top:314px;width:236px;height:41px;background:#55e6c4"></div>
<div class="a" style="left:826px;top:314px;width:14px;height:41px;background:linear-gradient(165deg,#fefefe 25%,#dedede)"></div>
<div class="a" style="left:825px;top:314px;width:251px;height:1px;background:rgba(0,0,0,0.08)"></div>
<div class="c" style="left:825px;width:15px;text-align:center;top:328.3px">4</div>
<div class="c" style="left:843px;width:98px;top:328.3px">Ahmed Ali</div>
<div class="c" style="left:941px;width:44px;text-align:right;top:328.3px">004</div>
<div class="c" style="left:992px;width:84px;top:328.3px">1980-11-05</div>
<div class="a" style="left:840px;top:355px;width:236px;height:42px;background:#ff9696"></div>
<div class="a" style="left:826px;top:355px;width:14px;height:42px;background:linear-gradient(165deg,#fefefe 25%,#dedede)"></div>
<div class="a" style="left:825px;top:355px;width:251px;height:1px;background:rgba(0,0,0,0.08)"></div>
<div class="c" style="left:825px;width:15px;text-align:center;top:369.8px">5</div>
<div class="c" style="left:843px;width:98px;top:369.8px">Lars Hansen</div>
<div class="c" style="left:941px;width:44px;text-align:right;top:369.8px">005</div>
<div class="c" style="left:992px;width:84px;top:369.8px">1968-12-12</div>
<div class="a" style="left:840px;top:397px;width:236px;height:42px;background:#e88787"></div>
<div class="a" style="left:826px;top:397px;width:14px;height:42px;background:linear-gradient(165deg,#fefefe 25%,#dedede)"></div>
<div class="a" style="left:825px;top:397px;width:251px;height:1px;background:rgba(0,0,0,0.08)"></div>
<div class="c" style="left:825px;width:15px;text-align:center;top:411.8px">6</div>
<div class="c" style="left:843px;width:98px;top:411.8px">Pierre Martin</div>
<div class="c" style="left:941px;width:44px;text-align:right;top:411.8px">006</div>
<div class="c" style="left:992px;width:84px;top:411.8px">1977-01-05</div>
<div class="c" style="left:844px;top:168.5px">Name</div>
<div class="cd" style="left:941px;top:160px;height:279px;background:rgba(0,0,0,0.12)"></div>
<div class="c" style="left:945px;top:168.5px">ID</div>
<div class="cd" style="left:989px;top:160px;height:279px;background:rgba(0,0,0,0.12)"></div>
<div class="c" style="left:993px;top:168.5px">DOB</div>

<svg class="a" style="left:0;top:0" width="1086" height="447" viewBox="0 0 1086 447">
 <g fill="none" stroke="#525252" stroke-width="2.3">
  <path d="M516 86.8C545 89.9 542.1 152.9 572 195"/>
  <path d="M516 212H572"/>
  <path d="M516 337.8C539.4 335.8 559.9 237.2 572 228.7"/>
 </g>
 <g fill="#525252">
  <path d="M569.5 189.3L581.5 195.2L569.5 201.1z"/>
  <path d="M569.5 206.1L581.5 212L569.5 217.9z"/>
  <path d="M569.5 222.8L581.5 228.7L569.5 234.6z"/>
 </g>
 <rect x="671" y="335" width="4" height="4" fill="#bbb"/>
 <g fill="#0fa01e">
  <circle cx="341.5" cy="86.8" r="8.6"/>
  <circle cx="341.5" cy="211.9" r="8.6"/>
  <circle cx="341.5" cy="337.9" r="8.6"/>
  <circle cx="593.5" cy="211.9" r="8.6"/>
 </g>
 <g fill="none" stroke="#fff" stroke-width="1.9" stroke-linecap="round" stroke-linejoin="round">
  <path d="M336.9 88.1l3.2 3.4 6.3-9"/>
  <path d="M336.9 213.2l3.2 3.4 6.3-9"/>
  <path d="M336.9 339.2l3.2 3.4 6.3-9"/>
  <path d="M588.9 213.2l3.2 3.4 6.3-9"/>
 </g>
 <path d="M750.5 217L756 207L761.5 217" fill="none" stroke="#1d8f8f" stroke-width="1.8"/>
</svg>

<svg class="a" style="left:0;top:0" width="1086" height="447"><g fill="#fb4343" style="filter:drop-shadow(1.5px 2.5px 2px rgba(0,0,0,0.4))"><path transform="translate(331.2,88.0)" d="M-59 -5H-29V-14.9L0 0L-29 14.9V5H-59A5 5 0 0 1 -59 -5Z"/><path transform="translate(331.0,213.6)" d="M-59 -5H-29V-14.9L0 0L-29 14.9V5H-59A5 5 0 0 1 -59 -5Z"/><path transform="translate(331.2,337.2)" d="M-59 -5H-29V-14.9L0 0L-29 14.9V5H-59A5 5 0 0 1 -59 -5Z"/><path transform="translate(825.2,211.2)" d="M-59 -5H-29V-14.9L0 0L-29 14.9V5H-59A5 5 0 0 1 -59 -5Z"/><path transform="translate(722,170.6) rotate(140.7)" d="M-86.8 -5H-29V-14.9L0 0L-29 14.9V5H-86.8A5 5 0 0 1 -86.8 -5Z"/></g></svg>
</body></html>
